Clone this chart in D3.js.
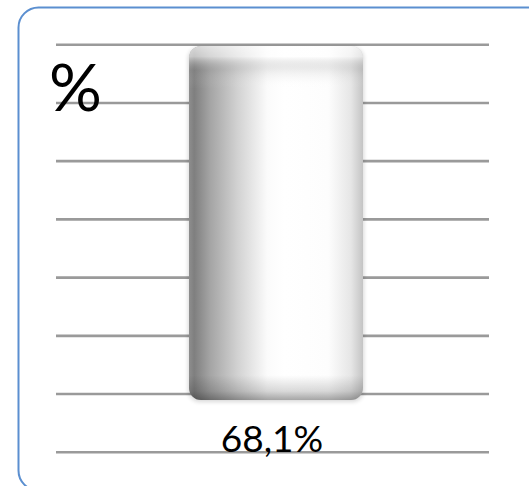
<!DOCTYPE html>
<html>
<head>
<meta charset="utf-8">
<script src="https://cdn.jsdelivr.net/npm/d3@7"></script>
<style>
  html, body { margin: 0; padding: 0; background: #fff; overflow: hidden; }
  svg { display: block; }
</style>
</head>
<body>
<svg id="chart" width="529" height="486"></svg>
<script>
// data
const categories = ['A'];
const values = [68.1];
const valueLabels = ['68,1%'];
const gridTicks = [0, 10, 20, 30, 40, 50, 60, 70];
const unitLabel = '%';

const svg = d3.select('#chart');

const defs = svg.append('defs');

// side shading of the bar
const hGrad = defs.append('linearGradient')
  .attr('id', 'barSide')
  .attr('x1', '0').attr('x2', '1').attr('y1', '0').attr('y2', '0');
[[0, '#8e8e8e'], [0.03, '#7f7f7f'], [0.12, '#a4a4a4'], [0.28, '#d2d2d2'], [0.45, '#fbfbfb'],
  [0.55, '#ffffff'], [0.8, '#fdfdfd'], [0.93, '#e6e6e6'], [1, '#c4c4c4']]
  .forEach(function(s) {
    hGrad.append('stop').attr('offset', s[0]).attr('stop-color', s[1]);
  });

// top / bottom bevel
const vGrad = defs.append('linearGradient')
  .attr('id', 'barBevel')
  .attr('x1', '0').attr('x2', '0').attr('y1', '0').attr('y2', '1');
[[0, '#ffffff', 0.7], [0.03, '#ffffff', 0.55], [0.07, '#8a8a8a', 0.14], [0.12, '#ffffff', 0],
  [0.93, '#000000', 0], [0.975, '#000000', 0.15], [1, '#000000', 0.35]]
  .forEach(function(s) {
    vGrad.append('stop').attr('offset', s[0]).attr('stop-color', s[1]).attr('stop-opacity', s[2]);
  });

defs.append('filter').attr('id', 'soft')
  .attr('x', '-10%').attr('y', '-10%').attr('width', '120%').attr('height', '120%')
  .append('feGaussianBlur').attr('stdDeviation', 2);

// frame
svg.append('rect')
  .attr('x', 18.5).attr('y', 7.5)
  .attr('width', 530).attr('height', 483)
  .attr('rx', 20)
  .attr('fill', '#fff')
  .attr('stroke', '#5b8fd0')
  .attr('stroke-width', 2);

// scales
const y = d3.scaleLinear().domain([0, 70]).range([452.3, 44.7]);
const yBar = d3.scaleLinear().domain([0, 70]).range([400, 36]);
const x = d3.scaleBand().domain(categories).range([189, 363]).padding(0);

// gridlines
svg.append('g')
  .selectAll('line')
  .data(gridTicks)
  .enter().append('line')
  .attr('x1', 56).attr('x2', 489)
  .attr('y1', function(d) { return y(d); })
  .attr('y2', function(d) { return y(d); })
  .attr('stroke', '#9a9a9a')
  .attr('stroke-width', 2.6);

// bars
const bars = svg.append('g')
  .selectAll('g')
  .data(values)
  .enter().append('g');

bars.append('rect')
  .attr('x', function(d, i) { return x(categories[i]) - 1; })
  .attr('y', function(d) { return yBar(d) + 1; })
  .attr('width', x.bandwidth() + 2)
  .attr('height', function(d) { return yBar(0) - yBar(d) + 1; })
  .attr('rx', 12)
  .attr('fill', '#000')
  .attr('opacity', 0.15)
  .attr('filter', 'url(#soft)');

bars.append('rect')
  .attr('x', function(d, i) { return x(categories[i]); })
  .attr('y', function(d) { return yBar(d); })
  .attr('width', x.bandwidth())
  .attr('height', function(d) { return yBar(0) - yBar(d); })
  .attr('rx', 12)
  .attr('fill', 'url(#barSide)');

bars.append('rect')
  .attr('x', function(d, i) { return x(categories[i]); })
  .attr('y', function(d) { return yBar(d); })
  .attr('width', x.bandwidth())
  .attr('height', function(d) { return yBar(0) - yBar(d); })
  .attr('rx', 12)
  .attr('fill', 'url(#barBevel)');

// value labels
bars.append('text')
  .attr('x', function(d, i) { return x(categories[i]) + x.bandwidth() / 2 - 4; })
  .attr('y', 452)
  .attr('text-anchor', 'middle')
  .attr('font-family', 'Lato, "Open Sans", sans-serif')
  .attr('font-size', 37)
  .attr('fill', '#000')
  .text(function(d, i) { return valueLabels[i]; });

// unit label
svg.append('text')
  .attr('x', 49)
  .attr('y', 111)
  .attr('font-family', 'Lato, "Open Sans", sans-serif')
  .attr('font-size', 66)
  .attr('fill', '#000')
  .text(unitLabel);
</script>
</body>
</html>
